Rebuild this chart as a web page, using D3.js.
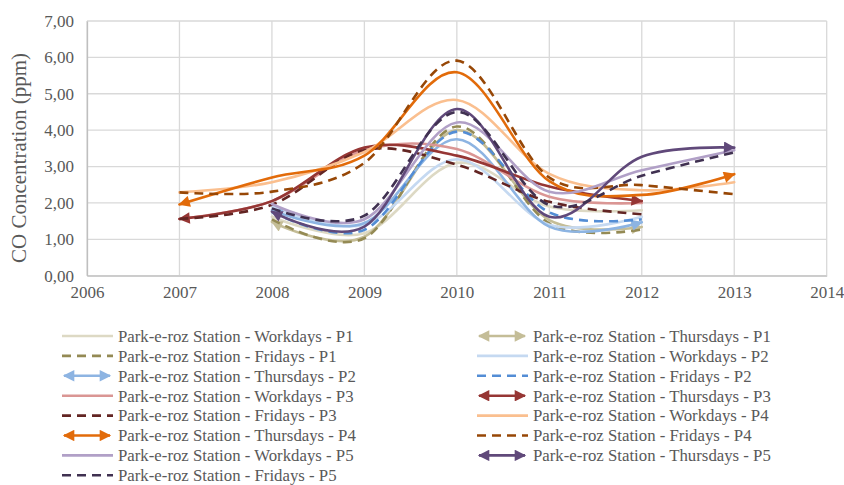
<!DOCTYPE html>
<html>
<head>
<meta charset="utf-8">
<script src="https://cdn.jsdelivr.net/npm/d3@7"></script>
<style>
  body { margin: 0; background: #fff; }
</style>
</head>
<body>
<div id="chart"></div>
<script>
const years = [2007, 2008, 2009, 2010, 2011, 2012, 2013];
const xTicks = [2006, 2007, 2008, 2009, 2010, 2011, 2012, 2013, 2014];
const yTicks = [0, 1, 2, 3, 4, 5, 6, 7];

// values per year (null = no data that year)
const workdaysP1 = [null, 1.62, 1.17, 3.10, 1.90, 1.80, null];
const thursdaysP1 = [null, 1.48, 1.07, 4.00, 1.53, 1.34, null];
const fridaysP1 = [null, 1.55, 1.03, 4.10, 1.44, 1.27, null];
const workdaysP2 = [null, 1.90, 1.40, 3.20, 1.40, 1.62, null];
const thursdaysP2 = [null, 1.80, 1.45, 3.75, 1.35, 1.47, null];
const fridaysP2 = [null, 1.75, 1.26, 3.96, 1.74, 1.55, null];
const workdaysP3 = [1.56, 2.05, 3.45, 3.48, 2.17, 2.00, null];
const thursdaysP3 = [1.56, 2.05, 3.52, 3.30, 2.45, 2.05, null];
const fridaysP3 = [1.56, 1.95, 3.45, 3.05, 2.03, 1.69, null];
const workdaysP4 = [2.29, 2.57, 3.40, 4.83, 2.80, 2.35, 2.57];
const thursdaysP4 = [1.96, 2.70, 3.30, 5.59, 2.60, 2.22, 2.79];
const fridaysP4 = [2.29, 2.31, 3.10, 5.91, 2.70, 2.49, 2.24];
const workdaysP5 = [null, 1.97, 1.55, 4.21, 2.31, 2.90, 3.45];
const thursdaysP5 = [null, 1.76, 1.35, 4.58, 1.62, 3.27, 3.52];
const fridaysP5 = [null, 1.85, 1.65, 4.50, 1.94, 2.75, 3.39];

const series = [
  { name: 'Park-e-roz Station - Workdays - P1', values: workdaysP1, color: '#DDD9C4', kind: 'solid' },
  { name: 'Park-e-roz Station - Thursdays - P1', values: thursdaysP1, color: '#C4BD97', kind: 'arrow' },
  { name: 'Park-e-roz Station - Fridays - P1', values: fridaysP1, color: '#948A54', kind: 'dash' },
  { name: 'Park-e-roz Station - Workdays - P2', values: workdaysP2, color: '#C5D9F1', kind: 'solid' },
  { name: 'Park-e-roz Station - Thursdays - P2', values: thursdaysP2, color: '#8DB4E2', kind: 'arrow' },
  { name: 'Park-e-roz Station - Fridays - P2', values: fridaysP2, color: '#538DD5', kind: 'dash' },
  { name: 'Park-e-roz Station - Workdays - P3', values: workdaysP3, color: '#DA9694', kind: 'solid' },
  { name: 'Park-e-roz Station - Thursdays - P3', values: thursdaysP3, color: '#963634', kind: 'arrow' },
  { name: 'Park-e-roz Station - Fridays - P3', values: fridaysP3, color: '#632523', kind: 'dash' },
  { name: 'Park-e-roz Station - Workdays - P4', values: workdaysP4, color: '#FABF8F', kind: 'solid' },
  { name: 'Park-e-roz Station - Thursdays - P4', values: thursdaysP4, color: '#E26B0A', kind: 'arrow' },
  { name: 'Park-e-roz Station - Fridays - P4', values: fridaysP4, color: '#974706', kind: 'dash' },
  { name: 'Park-e-roz Station - Workdays - P5', values: workdaysP5, color: '#B1A0C7', kind: 'solid' },
  { name: 'Park-e-roz Station - Thursdays - P5', values: thursdaysP5, color: '#60497A', kind: 'arrow' },
  { name: 'Park-e-roz Station - Fridays - P5', values: fridaysP5, color: '#403151', kind: 'dash' }
];

const w = 844;
const h = 485;
const plotLeft = 87;
const plotRight = 826.7;
const plotTop = 21;
const plotBottom = 275.7;
const serif = "'Liberation Serif', 'DejaVu Serif', serif";
const textColor = '#595959';

const xScale = d3.scaleLinear().domain([2006, 2014]).range([plotLeft, plotRight]);
const yScale = d3.scaleLinear().domain([0, 7]).range([plotBottom, plotTop]);

const svg = d3.select('#chart').append('svg').attr('width', w).attr('height', h)
  .attr('font-family', serif);

// arrow heads for the Thursday lines
const defs = svg.append('defs');
series.filter(s => s.kind === 'arrow').forEach((s, i) => {
  s.marker = 'arrow' + i;
  defs.append('marker')
    .attr('id', s.marker)
    .attr('viewBox', '0 0 10 10')
    .attr('refX', 9)
    .attr('refY', 5)
    .attr('markerWidth', 5)
    .attr('markerHeight', 4.4)
    .attr('orient', 'auto-start-reverse')
    .append('path')
    .attr('d', 'M0,0L10,5L0,10Z')
    .attr('fill', s.color);
});

// grid
svg.append('g').selectAll('line').data(yTicks).enter().append('line')
  .attr('x1', plotLeft).attr('x2', plotRight)
  .attr('y1', d => yScale(d)).attr('y2', d => yScale(d))
  .attr('stroke', '#d9d9d9').attr('stroke-width', 1.3);
svg.append('g').selectAll('line').data(xTicks).enter().append('line')
  .attr('x1', d => xScale(d)).attr('x2', d => xScale(d))
  .attr('y1', plotTop).attr('y2', plotBottom)
  .attr('stroke', '#d9d9d9').attr('stroke-width', 1.3);

// axes
const xAxis = d3.axisBottom(xScale).tickValues(xTicks).tickFormat(d3.format('d')).tickSize(0).tickPadding(10);
const yAxis = d3.axisLeft(yScale).tickValues(yTicks).tickFormat(d => d3.format('.2f')(d).replace('.', ',')).tickSize(0).tickPadding(13);

const gx = svg.append('g').attr('transform', 'translate(0,' + plotBottom + ')').call(xAxis);
const gy = svg.append('g').attr('transform', 'translate(' + plotLeft + ',0)').call(yAxis);
[gx, gy].forEach(g => {
  g.attr('font-family', serif).attr('font-size', 17);
  g.select('.domain').attr('stroke', '#bfbfbf').attr('stroke-width', 1.3);
  g.selectAll('text').attr('fill', textColor);
});

svg.append('text')
  .attr('transform', 'translate(26,158) rotate(-90)')
  .attr('text-anchor', 'middle')
  .attr('font-size', 21)
  .attr('fill', textColor)
  .text('CO Concentration (ppm)');

// lines
const line = d3.line()
  .x(d => xScale(d[0]))
  .y(d => yScale(d[1]))
  .curve(d3.curveCardinal.tension(0));

series.forEach(s => {
  const pts = years.map((yr, i) => [yr, s.values[i]]).filter(d => d[1] !== null);
  const p = svg.append('path')
    .datum(pts)
    .attr('d', line)
    .attr('fill', 'none')
    .attr('stroke', s.color)
    .attr('stroke-width', 2.6)
    .attr('stroke-linecap', s.kind === 'dash' ? 'butt' : 'round');
  if (s.kind === 'dash') p.attr('stroke-dasharray', '9,6');
  if (s.kind === 'arrow') p.attr('marker-start', 'url(#' + s.marker + ')').attr('marker-end', 'url(#' + s.marker + ')');
});

// legend, two columns, row-major
const legend = svg.append('g');
series.forEach((s, i) => {
  const col = i % 2;
  const row = Math.floor(i / 2);
  const lx = col === 0 ? 62 : 477;
  const ly = 336 + row * 19.9;
  const g = legend.append('g').attr('transform', 'translate(' + lx + ',' + ly + ')');
  const l = g.append('line')
    .attr('x1', s.kind === 'arrow' ? 2 : 0).attr('x2', s.kind === 'arrow' ? 48 : 51)
    .attr('y1', 0).attr('y2', 0)
    .attr('stroke', s.color).attr('stroke-width', 2.6);
  if (s.kind === 'dash') l.attr('stroke-dasharray', '9,6');
  if (s.kind === 'arrow') l.attr('marker-start', 'url(#' + s.marker + ')').attr('marker-end', 'url(#' + s.marker + ')');
  g.append('text')
    .attr('x', 56).attr('y', 0).attr('dy', '0.35em')
    .attr('font-size', 16.8)
    .attr('fill', textColor)
    .text(s.name);
});
</script>
</body>
</html>
